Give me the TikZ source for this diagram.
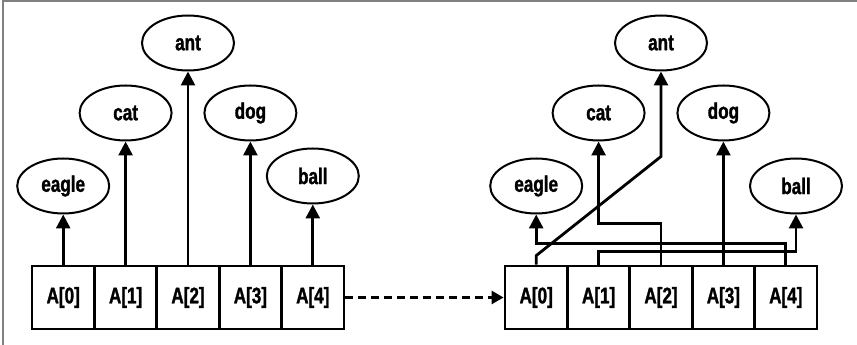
\documentclass[tikz,border=0pt]{standalone}
\usepackage{fontspec}
\newfontfamily\labfont{Liberation Sans}[BoldFont={Liberation Sans Bold},BoldFeatures={FakeStretch=0.76,FakeBold=1.3}]
\usetikzlibrary{arrows.meta,shapes.geometric}
\begin{document}
\begin{tikzpicture}[x=1pt,y=1pt,
  every node/.style={font=\labfont\bfseries\fontsize{22.5}{26}\selectfont},
  cell/.style={draw,line width=2.8pt,minimum width=62.4pt,minimum height=63pt,inner sep=0pt},
  oval/.style={draw,ellipse,line width=2pt,minimum width=92pt,minimum height=55pt,inner sep=0pt},
  arr/.style={line width=2.8pt,-{Triangle[width=14pt,length=14pt]}},
  dasharr/.style={line width=2.6pt,dash pattern=on 8pt off 5pt,-{Triangle[width=13pt,length=12pt]}}]
\useasboundingbox (0,0) rectangle (857,345);
\draw[gray,line width=2pt] (2.5,0) -- (2.5,344) -- (857,344);
% arrays
\foreach \i/\x in {0/63.2,1/125.6,2/188,3/250.4,4/312.8}
  \node[cell] (L\i) at (\x,47.5) {A[\i]};
\foreach \i/\x in {0/536.2,1/598.6,2/661,3/723.4,4/785.8}
  \node[cell] (R\i) at (\x,47.5) {A[\i]};
% left ellipses
\node[oval] (Le) at (63.2,159) {eagle};
\node[oval] (Lc) at (125.6,232) {cat};
\node[oval] (La) at (188,302) {ant};
\node[oval] (Ld) at (250.4,232) {dog};
\node[oval] (Lb) at (312.8,169) {ball};
% right ellipses
\node[oval] (Re) at (536.2,159) {eagle};
\node[oval] (Rc) at (598.6,232) {cat};
\node[oval] (Ra) at (661,302) {ant};
\node[oval] (Rd) at (723.4,232) {dog};
\node[oval] (Rb) at (796,159) {ball};
% left arrows
\draw[arr] (L0.north) -- (Le.south);
\draw[arr] (L1.north) -- (Lc.south);
\draw[arr] (L2.north) -- (La.south);
\draw[arr] (L3.north) -- (Ld.south);
\draw[arr] (L4.north) -- (Lb.south);
% dashed
\draw[dasharr] (L4.east) -- (R0.west);
% right connectors
\draw[arr] (R0.north) -- ++(0,9) -- ([yshift=-85]Ra.south) -- (Ra.south);
\draw[arr] (R1.north) -- ++(0,13) -| (Rb.south);
\draw[arr] (R2.north) -- ++(0,41) -| (Rc.south);
\draw[arr] (R3.north) -- (Rd.south);
\draw[arr] (R4.north) -- ++(0,21) -| (Re.south);
\end{tikzpicture}
\end{document}
